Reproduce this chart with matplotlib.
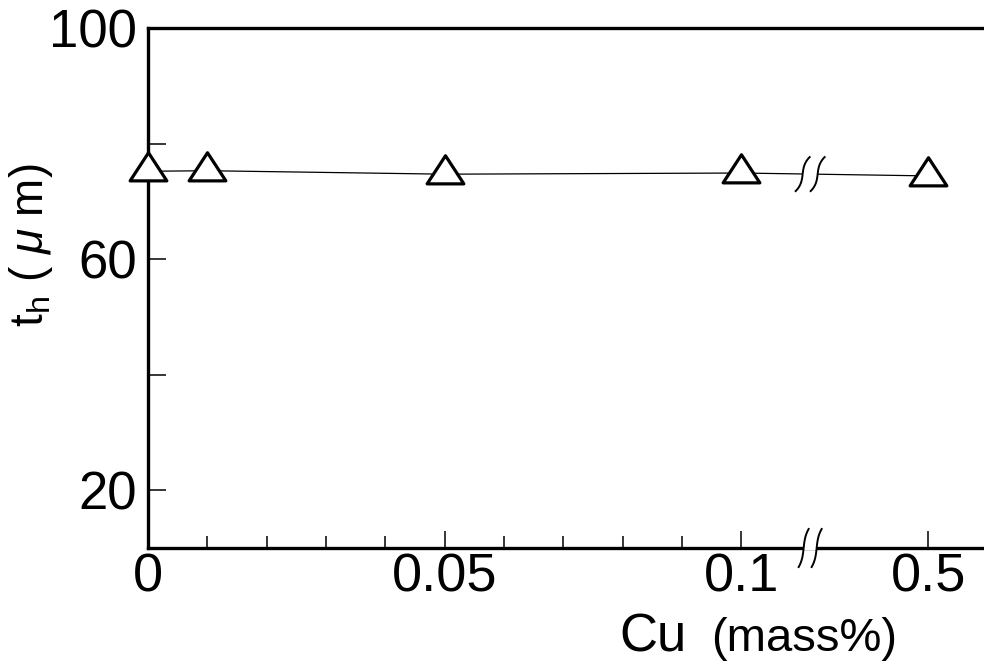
"""t_h vs Cu content, with a broken x axis between 0.1 and 0.5 mass%."""

import numpy as np
import matplotlib
matplotlib.use('Agg')
import matplotlib.pyplot as plt
from matplotlib.path import Path
from matplotlib.markers import MarkerStyle
from matplotlib.patches import Rectangle

plt.rcParams['font.family'] = ['Liberation Sans', 'DejaVu Sans']
plt.rcParams['mathtext.fontset'] = 'custom'
plt.rcParams['mathtext.rm'] = 'Liberation Sans'
plt.rcParams['mathtext.it'] = 'Liberation Sans:italic'

# Data
cu = [0, 0.01, 0.05, 0.1, 0.5]            # mass%
th = [75.2, 75.3, 74.7, 74.9, 74.4]       # um
xtick_vals = [0, 0.05, 0.1, 0.5]
xtick_labels = ['0', '0.05', '0.1', '0.5']
ytick_vals = [20, 40, 60, 80, 100]
ytick_labels = ['20', '', '60', '', '100']

# broken axis: everything above 0.1 is drawn at a fixed spot past the break
X_HIGH = 0.1315
X_BREAK = 0.1116
X_MAX = 0.1409


def to_axis(v):
    return v if v <= 0.1 else X_HIGH


xpos = [to_axis(v) for v in cu]

fig = plt.figure(figsize=(9.84, 6.68), dpi=100)
ax = fig.add_axes([148/984, 120/668, 1 - 148/984, 520/668])

tri = Path([(0, 1), (-0.98, -0.5), (0.98, -0.5), (0, 1)], closed=True)
ax.plot(xpos, th, color='black', lw=0.9, zorder=3)
ax.plot(xpos, th, ls='none', marker=MarkerStyle(tri, joinstyle='miter'),
        ms=27, mfc='white', mec='black', mew=2.3, clip_on=False, zorder=6)

ax.set_xlim(0, X_MAX)
ax.set_ylim(10, 100)

ax.set_xticks([to_axis(v) for v in xtick_vals])
ax.set_xticklabels(xtick_labels)
ax.set_xticks(np.arange(0.01, 0.1, 0.01), minor=True)
ax.set_yticks(ytick_vals)
ax.set_yticklabels(ytick_labels)

ax.tick_params(axis='x', which='major', direction='in', length=12, width=1.1,
               labelsize=39, pad=3)
ax.tick_params(axis='x', which='minor', direction='in', length=9, width=1.1)
ax.tick_params(axis='y', direction='in', length=13, width=1.1,
               labelsize=38, pad=8)

for side in ['left', 'top', 'bottom']:
    ax.spines[side].set_linewidth(2.4)
ax.spines['right'].set_visible(False)

# break marks (S-shaped pairs) on the data line and on the bottom spine
px_x = X_MAX / 836.0       # data units per pixel
px_y = 90 / 520.0
s = np.linspace(-1, 1, 40)


def break_mark(yc, h, w, gap, lw):
    left = X_BREAK - gap / 2 * px_x
    right = X_BREAK + gap / 2 * px_x
    ax.add_patch(Rectangle((left, yc - 2 * px_y), right - left, 4 * px_y,
                           facecolor='white', edgecolor='none',
                           clip_on=False, zorder=4))
    for xc in (left, right):
        ax.plot(xc + w * px_x * s**3 + 2 * px_x * s, yc + h * px_y * s,
                color='black', lw=lw, clip_on=False, zorder=5)


break_mark(np.interp(X_BREAK, xpos, th), 17, 5, 15, 1.4)
break_mark(10, 19, 3, 13, 1.4)

fig.text(31/984, 1 - 245/668, r't$_\mathrm{h}$ ( $\mu$ m)', rotation=90,
         ha='center', va='center', fontsize=33)
fig.text(619/984, 1 - 651/668, 'Cu', ha='left', va='baseline', fontsize=38)
fig.text(897/984, 1 - 651/668, '(mass%)', ha='right', va='baseline',
         fontsize=34)

fig.savefig('out.png', dpi=100)
